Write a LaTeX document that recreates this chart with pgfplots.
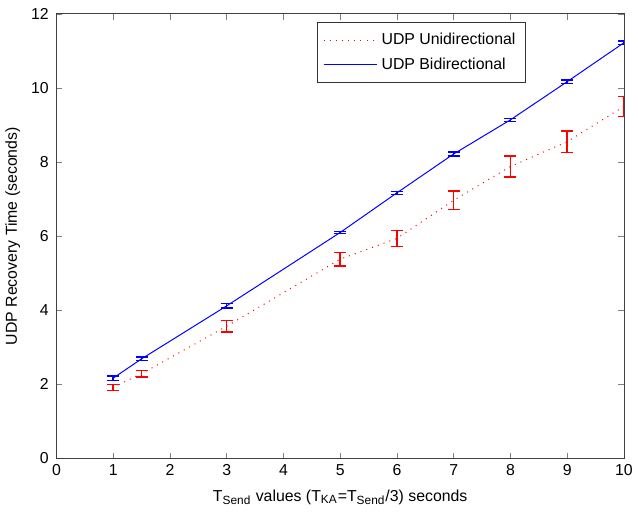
\documentclass[border=0pt]{standalone}
\usepackage{fontspec}
\setmainfont{Liberation Sans}
\usepackage{pgfplots}
\pgfplotsset{compat=1.18}

\begin{document}
\fontsize{8}{9.6}\selectfont
\begin{tikzpicture}
\begin{axis}[
    width=286.5pt,
    height=224.5pt,
    scale only axis,
    xmin=0, xmax=10,
    ymin=0, ymax=12,
    xtick={0,1,...,10},
    ytick={0,2,...,12},
    tick align=inside,
    major tick length=3pt,
    tick label style={font=\fontsize{8}{9.6}\selectfont},
    /pgf/number format/assume math mode=true,
    label style={font=\fontsize{8}{9.6}\selectfont},
    xlabel={T\textsubscript{Send} values (T\textsubscript{KA}=T\textsubscript{Send}/3) seconds},
    ylabel={UDP Recovery Time (seconds)},
    xlabel style={at={(axis description cs:0.5,0)}, anchor=center, yshift=-19.5pt},
    ylabel style={at={(axis description cs:0,0.5)}, anchor=center, yshift=22pt},
    yticklabel style={xshift=-1pt},
    axis line style={black!75},
    legend style={font=\fontsize{8}{9.6}\selectfont, draw=black!80, at={(0.827,0.982)}, anchor=north east,
                  inner xsep=3pt, inner ysep=3.5pt, row sep=1.5pt},
    legend cell align=left,
    legend image code/.code={\draw[#1] (0pt,0pt) -- (27pt,0pt);},
]
\addplot[red, line width=0.5pt, dash pattern=on 0.5pt off 2.6pt,
    error bars/.cd, y dir=both, y explicit,
    error bar style={solid, red, line width=0.75pt},
    error mark options={rotate=90, mark size=3pt, red, solid, line width=0.75pt}]
coordinates {
(1,1.92) +- (0,0.08)
(1.5,2.29) +- (0,0.09)
(3,3.57) +- (0,0.15)
(5,5.38) +- (0,0.18)
(6,5.94) +- (0,0.22)
(7,6.97) +- (0,0.25)
(8,7.88) +- (0,0.28)
(9,8.55) +- (0,0.29)
(10,9.50) +- (0,0.27)
};
\addplot[blue, line width=0.5pt,
    error bars/.cd, y dir=both, y explicit,
    error bar style={solid, blue, line width=0.75pt},
    error mark options={rotate=90, mark size=3pt, blue, solid, line width=0.75pt}]
coordinates {
(1,2.17) +- (0,0.06)
(1.5,2.69) +- (0,0.05)
(3,4.12) +- (0,0.06)
(5,6.10) +- (0,0.03)
(6,7.17) +- (0,0.04)
(7,8.22) +- (0,0.05)
(8,9.14) +- (0,0.04)
(9,10.17) +- (0,0.05)
(10,11.22) +- (0,0.05)
};
\legend{UDP Unidirectional, UDP Bidirectional}
\end{axis}
\path (current axis.south west) ++(-28.5pt,-29pt);
\path (current axis.north east) ++(4pt,7pt);
\end{tikzpicture}
\end{document}
